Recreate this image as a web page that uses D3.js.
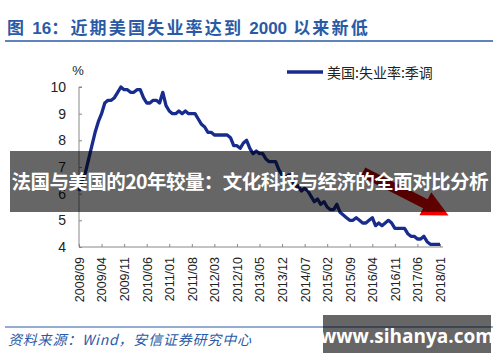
<!DOCTYPE html>
<html>
<head>
<meta charset="utf-8">
<script src="https://cdn.jsdelivr.net/npm/d3@7"></script>
<style>
    body { margin: 0; background: #fff; }
    svg { display: block; }
</style>
</head>
<body>
<div id="chart"></div>
<script>
// US unemployment rate, seasonally adjusted, monthly from 2008/09 to 2018/01
const rate = [
    6.1, 6.5, 6.8, 7.3,
    7.8, 8.3, 8.7, 9.0, 9.4, 9.5, 9.5, 9.6, 9.8, 10.0, 9.9, 9.9,
    9.8, 9.8, 9.9, 9.9, 9.6, 9.4, 9.4, 9.5, 9.5, 9.4, 9.8, 9.3,
    9.1, 9.0, 9.0, 9.1, 9.0, 9.1, 9.0, 9.0, 9.0, 8.8, 8.6, 8.5,
    8.3, 8.3, 8.2, 8.2, 8.2, 8.2, 8.2, 8.1, 7.8, 7.8, 7.7, 7.9,
    8.0, 7.7, 7.5, 7.6, 7.5, 7.5, 7.3, 7.2, 7.2, 7.2, 6.9, 6.7,
    6.6, 6.7, 6.7, 6.2, 6.3, 6.1, 6.2, 6.1, 5.9, 5.7, 5.8, 5.6,
    5.7, 5.5, 5.4, 5.4, 5.6, 5.3, 5.2, 5.1, 5.0, 5.0, 5.1, 5.0,
    4.9, 4.9, 5.0, 5.1, 4.8, 4.9, 4.8, 4.9, 5.0, 4.9, 4.7, 4.7,
    4.7, 4.7, 4.5, 4.4, 4.4, 4.3, 4.3, 4.4, 4.2, 4.1, 4.1, 4.1,
    4.1
];
const tickLabels = [
    '2008/09', '2009/04', '2009/11', '2010/06', '2011/01', '2011/08',
    '2012/03', '2012/10', '2013/05', '2013/12', '2014/07', '2015/02',
    '2015/09', '2016/04', '2016/11', '2017/06', '2018/01'
];
const tickStep = 7;
const yTicks = [4, 5, 6, 7, 8, 9, 10];

const W = 500, H = 362;
const CJK = '"Noto Sans CJK SC", sans-serif';
const LAT = '"Liberation Sans", Arial, sans-serif';
const BLUE = '#2a5aa6';

const svg = d3.select('#chart').append('svg').attr('width', W).attr('height', H);

// title
const title = svg.append('text')
    .attr('x', 7)
    .attr('y', 34)
    .style('font-family', CJK)
    .style('font-weight', 'bold')
    .style('font-size', '17px')
    .style('letter-spacing', '2.2px')
    .style('fill', BLUE);
title.append('tspan').text('图 ');
title.append('tspan').style('font-family', LAT).style('letter-spacing', '0px').text('16');
title.append('tspan').text('：近期美国失业率达到 ');
title.append('tspan').style('font-family', LAT).style('letter-spacing', '0px').text('2000');
title.append('tspan').text(' 以来新低');

svg.append('line')
    .attr('x1', 5).attr('x2', 493)
    .attr('y1', 41).attr('y2', 41)
    .attr('stroke', BLUE).attr('stroke-width', 1.5);

// scales
const x = d3.scaleLinear().domain([0, rate.length - 1]).range([79, 440]);
const y = d3.scaleLinear().domain([4, 10]).range([247, 87]);

// y axis
const yAxis = d3.axisRight(y).tickValues(yTicks).tickSize(3).tickFormat(d3.format('d'));
const gy = svg.append('g').attr('transform', `translate(${x(0)},0)`).call(yAxis);
gy.select('.domain').attr('stroke', '#888').attr('d', `M3,${y(10)}H0V${y(4)}`);
gy.selectAll('.tick line').attr('stroke', '#888');
gy.selectAll('.tick text')
    .attr('x', -13)
    .attr('text-anchor', 'end')
    .style('font-family', LAT)
    .style('font-size', '14px')
    .style('fill', '#222');

svg.append('text')
    .attr('x', 78)
    .attr('y', 75)
    .attr('text-anchor', 'middle')
    .style('font-family', LAT)
    .style('font-size', '13px')
    .style('fill', '#222')
    .text('%');

// x axis
const xTickIdx = tickLabels.map((d, i) => i * tickStep);
const xAxis = d3.axisTop(x).tickValues(xTickIdx).tickSize(3).tickFormat((d, i) => tickLabels[i]);
const gx = svg.append('g').attr('transform', `translate(0,${y(4)})`).call(xAxis);
gx.select('.domain').attr('stroke', '#888').attr('d', `M${x(0)},0H${x(rate.length - 1) + 3}`);
gx.selectAll('.tick line').attr('stroke', '#888');
gx.selectAll('.tick text')
    .attr('transform', 'rotate(-90)')
    .attr('x', -10)
    .attr('y', 0)
    .attr('dy', '0.35em')
    .attr('text-anchor', 'end')
    .style('font-family', LAT)
    .style('font-size', '12.5px')
    .style('fill', '#222');

// series line
const line = d3.line().x((d, i) => x(i)).y((d) => y(d));
svg.append('path')
    .datum(rate)
    .attr('fill', 'none')
    .attr('stroke', '#182c8e')
    .attr('stroke-width', 3.3)
    .attr('stroke-linejoin', 'round')
    .attr('d', line);

// legend
svg.append('line')
    .attr('x1', 287).attr('x2', 323)
    .attr('y1', 72).attr('y2', 72)
    .attr('stroke', '#182c8e').attr('stroke-width', 3.3);
svg.append('text')
    .attr('x', 327)
    .attr('y', 78)
    .style('font-family', CJK)
    .style('font-size', '14px')
    .style('fill', '#222')
    .text('美国:失业率:季调');

// red arrow
const defs = svg.append('defs');
const grad = defs.append('linearGradient').attr('id', 'arrowGrad')
    .attr('x1', '0%').attr('x2', '100%');
grad.append('stop').attr('offset', '0%').attr('stop-color', '#b00000');
grad.append('stop').attr('offset', '100%').attr('stop-color', '#ff0000');
svg.append('path')
    .attr('d', 'M0,-5 L70,-5 L70,-13 L96,0 L70,13 L70,5 L0,5 Z')
    .attr('fill', 'url(#arrowGrad)')
    .attr('transform', 'translate(363,172) rotate(27)');

// overlay band
svg.append('rect')
    .attr('x', 10).attr('y', 151)
    .attr('width', 481).attr('height', 61)
    .attr('fill', 'rgba(0,0,0,0.6)');
svg.append('text')
    .attr('x', 250)
    .attr('y', 189)
    .attr('text-anchor', 'middle')
    .attr('textLength', 477)
    .style('font-family', CJK)
    .style('font-weight', 'bold')
    .style('font-size', '19.5px')
    .style('fill', '#fff')
    .text('法国与美国的20年较量：文化科技与经济的全面对比分析');

// footer
svg.append('line')
    .attr('x1', 5).attr('x2', 493)
    .attr('y1', 327).attr('y2', 327)
    .attr('stroke', BLUE).attr('stroke-width', 1.2);
svg.append('text')
    .attr('x', 8)
    .attr('y', 345)
    .style('font-family', CJK)
    .style('font-style', 'italic')
    .style('font-size', '14px')
    .style('letter-spacing', '0.8px')
    .style('fill', BLUE)
    .text('资料来源：Wind，安信证券研究中心');

svg.append('rect')
    .attr('x', 323).attr('y', 315)
    .attr('width', 168).attr('height', 38)
    .attr('fill', 'rgba(0,0,0,0.6)');
svg.append('text')
    .attr('x', 407)
    .attr('y', 343)
    .attr('text-anchor', 'middle')
    .style('font-family', '"Open Sans", "Noto Sans", sans-serif')
    .style('font-weight', 'bold')
    .style('font-size', '19px')
    .style('fill', '#fff')
    .text('www.sihanya.com');
</script>
</body>
</html>
